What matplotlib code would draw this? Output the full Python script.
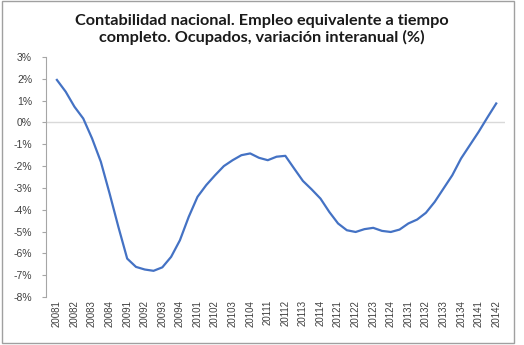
import numpy as np
import matplotlib.pyplot as plt
from matplotlib.patches import Rectangle

quarters = ["20081", "20082", "20083", "20084", "20091", "20092", "20093", "20094",
            "20101", "20102", "20103", "20104", "20111", "20112", "20113", "20114",
            "20121", "20122", "20123", "20124", "20131", "20132", "20133", "20134",
            "20141", "20142"]
# values read every half quarter (%)
empleo = [1.95, 1.41, 0.72, 0.18, -0.73, -1.8, -3.26, -4.79, -6.24, -6.62,
          -6.74, -6.8, -6.64, -6.16, -5.4, -4.33, -3.41, -2.87, -2.42, -2.0,
          -1.73, -1.5, -1.42, -1.62, -1.73, -1.57, -1.53, -2.11, -2.68, -3.07,
          -3.49, -4.1, -4.63, -4.94, -5.02, -4.89, -4.83, -4.97, -5.02, -4.91,
          -4.63, -4.45, -4.14, -3.64, -3.03, -2.42, -1.65, -1.04, -0.43, 0.23,
          0.87]
yticks = [3, 2, 1, 0, -1, -2, -3, -4, -5, -6, -7, -8]

x = np.arange(len(empleo)) / 2

fig = plt.figure(figsize=(5.24, 3.45), dpi=100)
fig.patches.append(Rectangle((0.004, 0.006), 0.976, 0.99, transform=fig.transFigure,
                             fill=False, edgecolor="#a0a0a0", lw=1))
ax = fig.add_axes([46 / 524, 1 - 297 / 345, 459 / 524, 240 / 345])

ax.axhline(0, color="#d9d9d9", lw=1, zorder=1)
ax.plot(x, empleo, color="#4472C4", lw=1.6, zorder=3)

ax.set_xlim(-0.62, 25.5)
ax.set_ylim(-8, 3)
ax.set_yticks(yticks)
ax.set_yticklabels([f"{v}%" for v in yticks])
ax.set_xticks(range(len(quarters)))
ax.set_xticklabels(quarters, rotation=90)

for s in ["top", "right", "bottom"]:
    ax.spines[s].set_visible(False)
ax.spines["left"].set_color("#a6a6a6")
ax.tick_params(axis="y", length=3, color="#a6a6a6", labelsize=7.5, labelcolor="#404040", pad=7)
ax.tick_params(axis="x", length=0, labelsize=7, labelcolor="#404040", pad=2)
for lab in ax.get_xticklabels() + ax.get_yticklabels():
    lab.set_family("Liberation Sans")

fig.text(0.5, 0.915, "Contabilidad nacional. Empleo equivalente a tiempo\ncompleto. Ocupados, variación interanual (%)",
         ha="center", va="center", fontsize=11.7, fontweight="bold", family="Lato",
         linespacing=1.2, color="#1a1a1a")

fig.savefig("out.png", dpi=100)
